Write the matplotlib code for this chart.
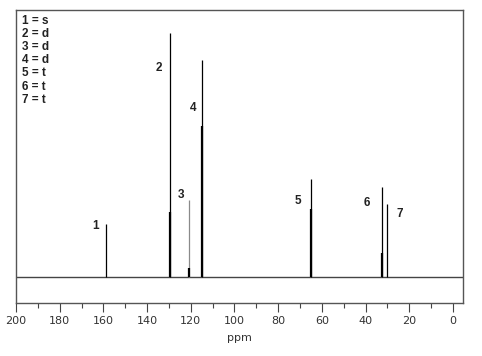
import matplotlib
matplotlib.use("Agg")
import matplotlib.pyplot as plt
from matplotlib.ticker import MultipleLocator

# 13C spectrum: peak positions (ppm) and intensities (% of tallest)
shifts = [158.8, 129.5, 120.8, 114.7, 65.1, 32.7, 30.2]
tall = [21.6, 100.0, 31.5, 88.9, 40.1, 36.8, 29.8]
thick = [0.0, 26.5, 3.6, 61.8, 27.8, 9.7, 0.0]
line_colors = ["black", "black", "#8a8a8a", "black", "black", "black", "black"]

peak_labels = ["1", "2", "3", "4", "5", "6", "7"]
label_x = [163.8, 134.6, 124.5, 119.0, 70.9, 39.4, 24.3]
label_y = [20.8, 85.6, 33.5, 69.2, 31.1, 30.2, 25.7]

multiplicity = ["1 = s", "2 = d", "3 = d", "4 = d", "5 = t", "6 = t", "7 = t"]

fig = plt.figure(figsize=(4.82, 3.56), dpi=100)
ax = fig.add_axes([16 / 482, 1 - 303 / 356, 447 / 482, 293.5 / 356])

ax.axhline(0, color="#444444", lw=1.0)
ax.vlines(shifts, 0, tall, colors=line_colors, lw=0.9)
ax.vlines(shifts, 0, thick, colors="black", lw=1.6)

for lab, x, y in zip(peak_labels, label_x, label_y):
    ax.text(x, y, lab, ha="center", va="center", fontsize=8.5,
            fontweight="bold", family="Liberation Sans", color="#222222")

for i, s in enumerate(multiplicity):
    ax.text(6 / 447, (303 - 20.7 - 13.2 * i) / 293.5, s, transform=ax.transAxes,
            ha="left", va="center", fontsize=8.5, fontweight="bold",
            family="Liberation Sans", color="#222222")

ax.set_xlim(200, -4.6)
ax.set_ylim(-10.8, 109.6)
ax.set_yticks([])
ax.xaxis.set_major_locator(MultipleLocator(20))
ax.xaxis.set_minor_locator(MultipleLocator(10))
ax.tick_params(axis="x", which="major", length=6.5, width=0.8, color="#444444",
               labelsize=8, labelcolor="#333333", pad=3)
ax.tick_params(axis="x", which="minor", length=3.5, width=0.8, color="#444444")
for sp in ax.spines.values():
    sp.set_color("#555555")
    sp.set_linewidth(1.0)
ax.set_xlabel("ppm", fontsize=8, color="#333333", labelpad=5)

fig.savefig("out.png", dpi=100)
